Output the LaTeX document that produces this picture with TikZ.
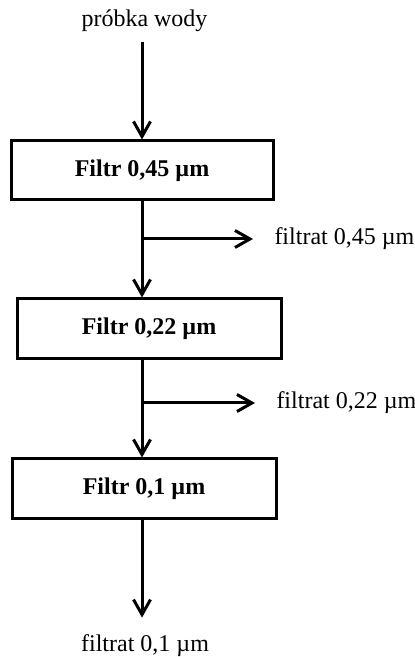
\documentclass[tikz,border=0pt]{standalone}
\usepackage{fontspec}
\setmainfont{Liberation Serif}
\usetikzlibrary{arrows.meta}
\tikzset{
  >={Straight Barb[length=7.5pt,width=8.5pt]},
  filterbox/.style={draw, line width=1.5pt, minimum height=29.5pt, minimum width=131pt, font=\fontsize{12}{14}\selectfont\bfseries},
  lbl/.style={inner sep=0pt, font=\fontsize{12}{14}\selectfont}
}

\begin{document}
\begin{tikzpicture}[x=0.5pt, y=0.5pt, line width=1.5pt]
  \useasboundingbox (0,0) rectangle (415,657);
  \node [lbl, anchor=base] (sample) at (144.5,630) {próbka wody};
  \node [filterbox] (F1) at (142,486.5) {Filtr 0,45 µm};
  \node [filterbox, minimum width=132pt, minimum height=30pt] (F2) at (149,328) {Filtr 0,22 µm};
  \node [filterbox, minimum width=132pt, minimum height=30pt] (F3) at (144,168) {Filtr 0,1 µm};
  \node [lbl, anchor=west] (out1) at (273,418) {filtrat 0,45 µm};
  \node [lbl, anchor=west] (out2) at (275,254) {filtrat 0,22 µm};
  \node [lbl, anchor=base] (out3) at (145,5) {filtrat 0,1 µm};
  \coordinate (B1) at (142,418);
  \coordinate (B2) at (142,254);
  \draw [->, shorten <=4pt] (F1.north |- sample.south) -- (F1.north);
  \draw [->] (F1.south) -- (F1.south |- F2.north);
  \draw [->, shorten >=10pt] (B1) -- (out1.west);
  \draw [->] (F2.south -| B2) -- (B2 |- F3.north);
  \draw [->, shorten >=10pt] (B2) -- (out2.west);
  \draw [->, shorten >=8pt] (F3.south -| B2) -- (B2 |- out3.north);
\end{tikzpicture}
\end{document}
